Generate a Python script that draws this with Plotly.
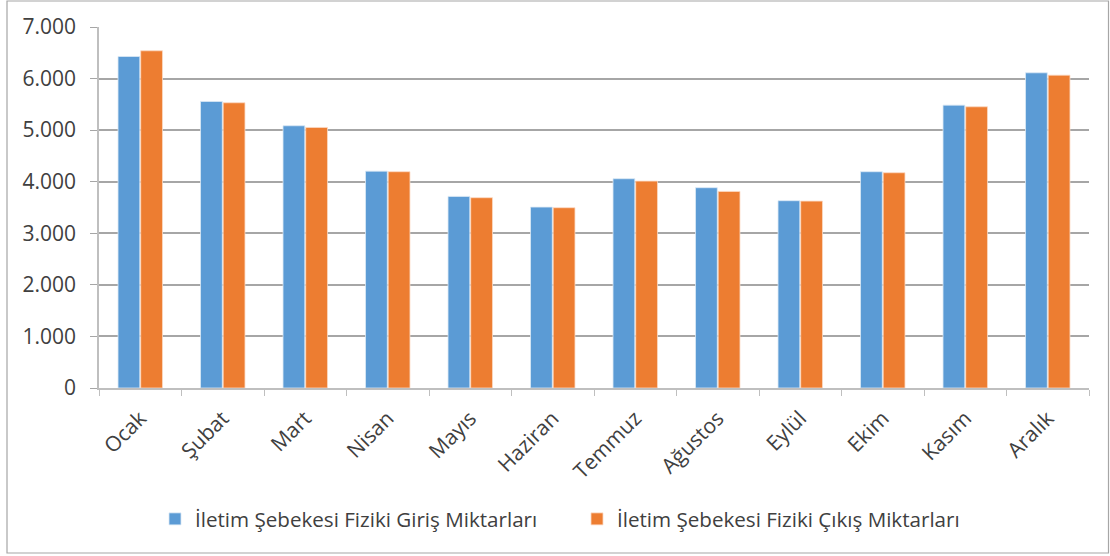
import plotly.graph_objects as go

months = ["Ocak", "Şubat", "Mart", "Nisan", "Mayıs", "Haziran", "Temmuz",
          "Ağustos", "Eylül", "Ekim", "Kasım", "Aralık"]
giris = [6428, 5556, 5085, 4205, 3715, 3508, 4058, 3884, 3632, 4194, 5485, 6112]
cikis = [6539, 5531, 5052, 4194, 3690, 3496, 4012, 3812, 3624, 4174, 5453, 6066]
name_giris = "İletim Şebekesi Fiziki Giriş Miktarları"
name_cikis = "İletim Şebekesi Fiziki Çıkış Miktarları"
y_ticks = [0, 1000, 2000, 3000, 4000, 5000, 6000, 7000]

fig = go.Figure()
fig.add_trace(go.Bar(x=months, y=giris, name=name_giris, legend="legend",
                     marker=dict(color="#5B9BD5", line=dict(color="#dbe8f5", width=0.8))))
fig.add_trace(go.Bar(x=months, y=cikis, name=name_cikis, legend="legend2",
                     marker=dict(color="#ED7D31", line=dict(color="#fbd9c4", width=0.8))))

W, H = 1110, 556
L, R, T, B = 99, 21, 27, 168
pw, ph = W - L - R, H - T - B

def px_x(x):
    return (x - L) / pw

def px_y(y):
    return (H - B - y) / ph

leg_common = dict(orientation="h", yanchor="middle", xanchor="left",
                  font=dict(size=20.6, color="#404040", family="Open Sans"),
                  itemwidth=30, bgcolor="rgba(0,0,0,0)", borderwidth=0)

fig.update_layout(
    width=W, height=H,
    margin=dict(l=L, r=R, t=T, b=B),
    paper_bgcolor="white", plot_bgcolor="white",
    barmode="group", bargap=0.45, bargroupgap=0.04,
    separators=",.",
    font=dict(family="Open Sans", color="#404040"),
    showlegend=True,
    legend=dict(x=px_x(155), y=px_y(519), **leg_common),
    legend2=dict(x=px_x(577), y=px_y(519), **leg_common),
    shapes=[dict(type="rect", xref="paper", yref="paper",
                 x0=px_x(7), x1=px_x(1108.5), y0=px_y(553), y1=px_y(1),
                 line=dict(color="#a6a6a6", width=1.2), fillcolor="rgba(0,0,0,0)",
                 layer="below")],
)
fig.update_xaxes(
    type="category", tickangle=-45, tickfont=dict(size=21),
    showline=True, linecolor="#bfbfbf", linewidth=1.5,
    ticks="outside", tickson="boundaries", ticklen=6, tickcolor="#bfbfbf",
    ticklabelstandoff=8,
    showgrid=False,
)
fig.update_yaxes(
    range=[0, 7000], tickvals=y_ticks, tickformat=",d",
    tickfont=dict(size=21),
    showline=True, linecolor="#bfbfbf", linewidth=1.5,
    ticks="outside", ticklen=7, tickcolor="#a6a6a6",
    ticklabelstandoff=10,
    showgrid=True, gridcolor="#a6a6a6", gridwidth=1.5,
    zeroline=False,
)

fig.write_html("out.html", config={"displayModeBar": False},
               post_script="document.body.style.margin='0';")
